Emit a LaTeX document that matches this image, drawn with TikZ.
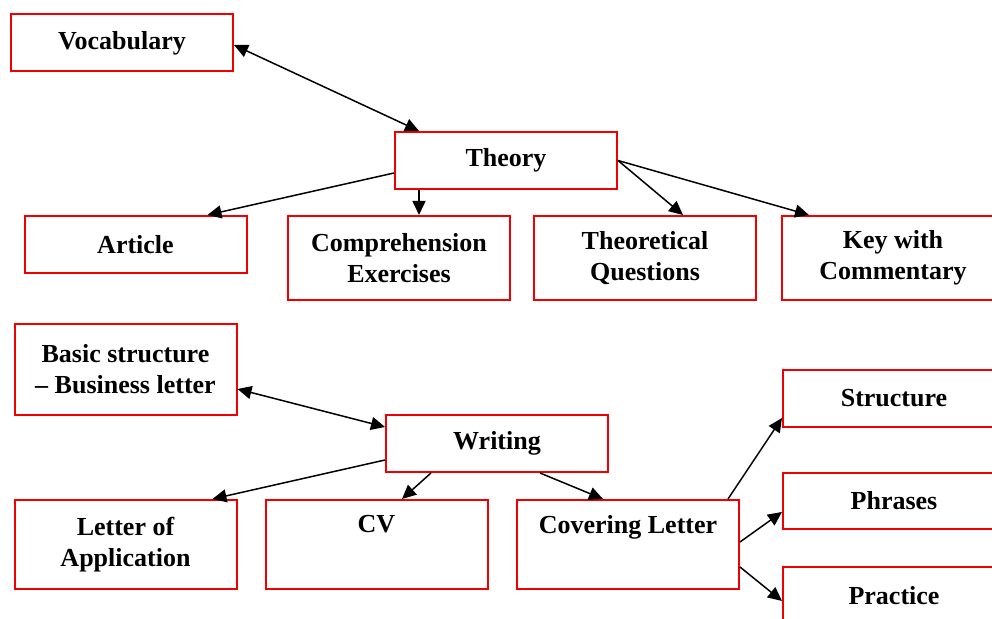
\documentclass[tikz,border=0pt]{standalone}
\usepackage{fontspec}
\setmainfont{Liberation Serif}
\usepackage{tikz}
\usetikzlibrary{shapes,arrows.meta,positioning}
\definecolor{boxred}{RGB}{240,0,0}

\begin{document}
\begin{tikzpicture}[x=0.5pt, y=-0.5pt,
  topic/.style={rectangle, draw=boxred, line width=1pt, minimum width=111pt, minimum height=28.5pt, inner sep=2pt, align=center, font=\fontsize{13}{15.5}\selectfont\bfseries},
  tall/.style={topic, minimum height=42pt},
  taller/.style={topic, minimum height=44.5pt},
  arrow/.style={line width=0.75pt,->,>={Triangle[length=7pt,width=6.5pt]}},
  twoway/.style={line width=0.75pt,<->,>={Triangle[length=7pt,width=6.5pt]}}]

  \clip (0,0) rectangle (992,619);

  % reading part
  \node [topic] (vocab) at (122,43) {Vocabulary};
  \node [topic] (theory) at (506,160.5) {Theory};
  \node [topic] (article) at (135.5,244.5) {Article};
  \node [tall] (comp) at (399,258) {Comprehension\\ Exercises};
  \node [tall] (theoq) at (645,258) {Theoretical\\ Questions};
  \node [tall] (key) at (893,258) {Key with\\ Commentary};

  % writing part
  \node [taller, minimum height=45.5pt] (basic) at (125.5,369.5) {Basic structure\\ -- Business letter};
  \node [topic] (writing) at (497,443.5) {Writing};
  \node [taller] (letter) at (125.5,544.5) {Letter of\\ Application};
  \node [taller] (cv) at (376.5,544.5) {CV\\ \strut};
  \node [taller] (cover) at (628,544.5) {Covering Letter\\ \strut};
  \node [topic] (structure) at (894,398.5) {Structure};
  \node [topic, minimum height=28pt] (phrases) at (894,501) {Phrases};
  \node [topic] (practice) at (894,595.5) {Practice};

  \draw [twoway] ([yshift=-1pt]vocab.east) -- ([xshift=12.5pt]theory.north west);
  \draw [arrow] ([yshift=-6.25pt]theory.west) -- ([xshift=-20pt]article.north east);
  \draw [arrow] ([xshift=12.5pt]theory.south west) -- ([xshift=12.5pt]theory.south west |- comp.north);
  \draw [arrow] (theory.east) -- ([xshift=19pt]theoq.north);
  \draw [arrow] (theory.east) -- ([xshift=14pt]key.north west);

  \draw [twoway] ([yshift=-9.75pt]basic.east) -- ([yshift=8.25pt]writing.west);
  \draw [arrow] ([yshift=-8.25pt]writing.west) -- ([xshift=-12.5pt]letter.north east);
  \draw [arrow] ([xshift=23pt]writing.south west) -- ([xshift=12.75pt]cv.north);
  \draw [arrow] ([xshift=77.5pt]writing.south west) -- ([xshift=43.5pt]cover.north west);
  \draw [arrow] ([xshift=-6pt]cover.north east) -- ([yshift=5pt]structure.south west);
  \draw [arrow] ([yshift=1.25pt]cover.east) -- ([yshift=-5.5pt]phrases.west);
  \draw [arrow] ([yshift=-11.25pt]cover.east) -- ([yshift=-2.75pt]practice.west);
\end{tikzpicture}
\end{document}
